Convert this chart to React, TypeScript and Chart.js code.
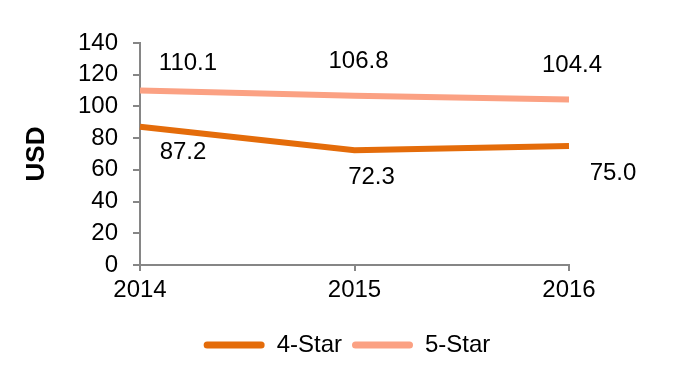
import React, { useEffect, useRef } from "react";
import { Chart, registerables } from "chart.js";

Chart.register(...registerables);

const years = ["2014", "2015", "2016"];
const fourStar = [87.2, 72.3, 75.0];
const fiveStar = [110.1, 106.8, 104.4];
const yTicks = [0, 20, 40, 60, 80, 100, 120, 140];

const FONT = "'Liberation Sans', Arial, sans-serif";

// label offsets relative to points (dx, dy)
const labelOffsets: Record<number, [number, number][]> = {
  0: [[43, 26], [17, 27], [44, 27]],
  1: [[48, -27], [4, -34], [3, -34]],
};

const labelPlugin = {
  id: "valueLabels",
  afterDatasetsDraw(chart: any) {
    const ctx = chart.ctx;
    ctx.save();
    ctx.font = `24px ${FONT}`;
    ctx.fillStyle = "#000";
    ctx.textAlign = "center";
    ctx.textBaseline = "middle";
    chart.data.datasets.forEach((ds: any, i: number) => {
      const meta = chart.getDatasetMeta(i);
      meta.data.forEach((pt: any, j: number) => {
        const [dx, dy] = labelOffsets[i][j];
        ctx.fillText((ds.data[j] as number).toFixed(1), pt.x + dx, pt.y + dy);
      });
    });
    ctx.restore();
  },
};

// center the legend over the full canvas rather than the padded area
const legendCenter = {
  id: "legendCenter",
  afterUpdate(chart: any) {
    const lg = chart.legend;
    if (!lg) return;
    lg.left = 0;
    lg.right = chart.width;
    lg.width = chart.width;
    if (lg.adjustHitBoxes) lg.adjustHitBoxes();
  },
};

export default function App() {
  const ref = useRef<HTMLCanvasElement>(null);
  useEffect(() => {
    const chart = new Chart(ref.current!, {
      type: "line",
      data: {
        labels: years,
        datasets: [
          {
            label: "4-Star",
            data: fourStar,
            borderColor: "#E46C0A",
            backgroundColor: "#E46C0A",
            borderWidth: 6,
            pointRadius: 0,
            tension: 0,
          },
          {
            label: "5-Star",
            data: fiveStar,
            borderColor: "#FBA183",
            backgroundColor: "#FBA183",
            borderWidth: 6,
            pointRadius: 0,
            tension: 0,
          },
        ],
      },
      options: {
        animation: false,
        responsive: false,
        maintainAspectRatio: false,
        layout: { padding: { left: 0, right: 125, top: 43, bottom: 10 } },
        plugins: {
          tooltip: { enabled: false },
          legend: {
            position: "bottom",
            labels: {
              font: { family: FONT, size: 24 },
              color: "#000",
              boxWidth: 61,
              boxHeight: 7,
              padding: 10,
              useBorderRadius: true,
              borderRadius: 3.5,
              generateLabels: (chart: any) =>
                Chart.defaults.plugins.legend.labels
                  .generateLabels(chart)
                  .map((it: any) => ({ ...it, lineWidth: 0 })),
            },
          },
        },
        scales: {
          x: {
            offset: false,
            grid: {
              display: true,
              drawOnChartArea: false,
              drawTicks: true,
              tickLength: 6,
              color: "#868686",
              lineWidth: 2,
            },
            border: { color: "#868686", width: 2 },
            ticks: {
              font: { family: FONT, size: 24 },
              color: "#000",
              padding: 5,
              maxRotation: 0,
              autoSkip: false,
            },
            afterFit: (s: any) => {
              s.height = 58;
            },
          },
          y: {
            min: 0,
            max: 140,
            afterBuildTicks: (s: any) => {
              s.ticks = yTicks.map((v) => ({ value: v }));
            },
            grid: {
              display: true,
              drawOnChartArea: false,
              drawTicks: true,
              tickLength: 7,
              color: "#868686",
              lineWidth: 2,
            },
            border: { color: "#868686", width: 2 },
            ticks: {
              font: { family: FONT, size: 24 },
              color: "#000",
              padding: 15,
              autoSkip: false,
            },
            title: {
              display: true,
              text: "USD",
              font: { family: FONT, size: 26, weight: "bold" },
              color: "#000",
              padding: { top: 21, bottom: 10 },
            },
            afterFit: (s: any) => {
              s.width = 140;
            },
          },
        },
      },
      plugins: [labelPlugin, legendCenter],
    });
    return () => chart.destroy();
  }, []);
  return (
    <div style={{ position: "fixed", left: 0, top: 0, width: 694, height: 377, background: "#fff" }}>
      <canvas ref={ref} width={694} height={377} style={{ width: 694, height: 377 }} />
    </div>
  );
}
